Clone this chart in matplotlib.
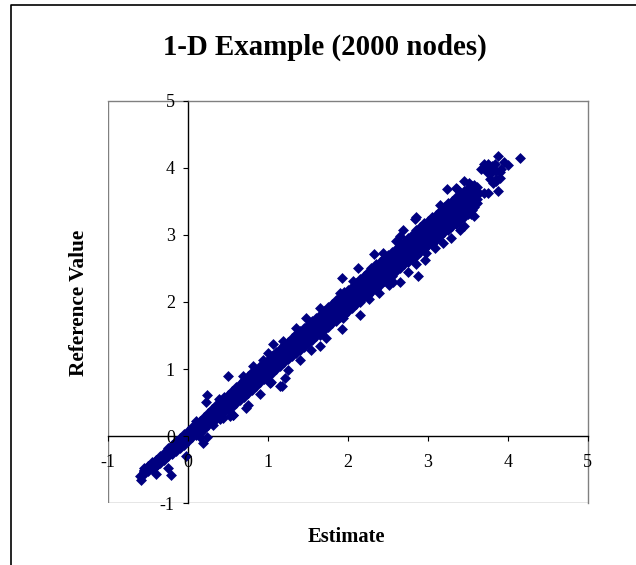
import matplotlib
matplotlib.use("Agg")
import matplotlib.pyplot as plt
from matplotlib.lines import Line2D

plt.rcParams["font.family"] = ["Liberation Serif", "DejaVu Serif"]

W, H = 636, 565
# plot box in pixels
LEFT, RIGHT, TOP, BOTTOM = 108.3, 587.5, 100.7, 503.2

# main band, read as rows along the estimate axis
band_x = [-0.55, -0.45, -0.35, -0.25, -0.15, -0.05, 0.05, 0.15, 0.25, 0.35, 0.45,
          0.55, 0.65, 0.75, 0.85, 0.95, 1.05, 1.15, 1.25, 1.35, 1.45, 1.55,
          1.65, 1.75, 1.85, 1.95, 2.05, 2.15, 2.25, 2.35, 2.45, 2.55, 2.65,
          2.75, 2.85, 2.95, 3.05, 3.15, 3.25, 3.35, 3.45, 3.55, 3.62]
band_mid = [-0.52, -0.44, -0.35, -0.24, -0.15, -0.05, 0.06, 0.14, 0.26, 0.36, 0.47,
            0.56, 0.66, 0.77, 0.87, 0.97, 1.07, 1.17, 1.28, 1.38, 1.47, 1.57,
            1.66, 1.77, 1.87, 1.98, 2.07, 2.17, 2.27, 2.38, 2.48, 2.57, 2.68,
            2.77, 2.88, 2.98, 3.07, 3.17, 3.27, 3.36, 3.46, 3.55, 3.60]
band_up = [-0.48, -0.39, -0.30, -0.18, -0.08, 0.03, 0.14, 0.23, 0.35, 0.46, 0.58,
           0.68, 0.78, 0.90, 0.99, 1.09, 1.20, 1.30, 1.41, 1.52, 1.61, 1.71,
           1.81, 1.92, 2.03, 2.15, 2.23, 2.34, 2.44, 2.56, 2.65, 2.75, 2.86,
           2.95, 3.07, 3.17, 3.27, 3.36, 3.47, 3.56, 3.66, 3.73, 3.72]
band_low = [-0.56, -0.49, -0.40, -0.30, -0.22, -0.13, -0.02, 0.05, 0.17, 0.26, 0.36,
            0.44, 0.54, 0.64, 0.75, 0.85, 0.94, 1.04, 1.15, 1.24, 1.33, 1.43,
            1.51, 1.62, 1.71, 1.81, 1.91, 2.00, 2.10, 2.20, 2.31, 2.39, 2.50,
            2.59, 2.69, 2.79, 2.87, 2.98, 3.07, 3.16, 3.26, 3.37, 3.48]
core_up = [-0.50, -0.41, -0.32, -0.21, -0.11, -0.01, 0.10, 0.18, 0.30, 0.41, 0.52,
           0.62, 0.72, 0.83, 0.93, 1.03, 1.13, 1.23, 1.34, 1.45, 1.54, 1.64,
           1.73, 1.84, 1.95, 2.06, 2.15, 2.25, 2.35, 2.47, 2.56, 2.66, 2.77,
           2.86, 2.97, 3.07, 3.17, 3.26, 3.37, 3.46, 3.56, 3.64, 3.66]
core_low = [-0.54, -0.46, -0.37, -0.27, -0.18, -0.09, 0.02, 0.10, 0.21, 0.31, 0.41,
            0.50, 0.60, 0.70, 0.81, 0.91, 1.00, 1.10, 1.21, 1.31, 1.40, 1.50,
            1.58, 1.69, 1.79, 1.89, 1.99, 2.08, 2.18, 2.29, 2.39, 2.48, 2.59,
            2.68, 2.78, 2.88, 2.97, 3.07, 3.17, 3.26, 3.36, 3.46, 3.54]

# second set of rows, read between the first ones
fill_x = [-0.50, -0.40, -0.30, -0.20, -0.10, 0.00, 0.10, 0.20, 0.30, 0.40, 0.50,
          0.60, 0.70, 0.80, 0.90, 1.00, 1.10, 1.20, 1.30, 1.40, 1.50, 1.60,
          1.70, 1.80, 1.90, 2.00, 2.10, 2.20, 2.30, 2.40, 2.50, 2.60, 2.70,
          2.80, 2.90, 3.00, 3.10, 3.20, 3.30, 3.40, 3.50, 3.58]
fill_mid = [-0.48, -0.40, -0.30, -0.20, -0.10, 0.00, 0.10, 0.20, 0.31, 0.41, 0.51,
            0.61, 0.71, 0.82, 0.92, 1.02, 1.12, 1.23, 1.33, 1.42, 1.52, 1.62,
            1.72, 1.82, 1.92, 2.02, 2.12, 2.22, 2.33, 2.43, 2.53, 2.62, 2.73,
            2.83, 2.93, 3.03, 3.12, 3.22, 3.32, 3.41, 3.50, 3.58]
fill_up = [-0.45, -0.36, -0.26, -0.15, -0.05, 0.05, 0.15, 0.26, 0.38, 0.48, 0.58,
           0.69, 0.79, 0.90, 1.00, 1.10, 1.20, 1.31, 1.41, 1.50, 1.60, 1.70,
           1.80, 1.91, 2.01, 2.11, 2.21, 2.31, 2.42, 2.52, 2.62, 2.71, 2.82,
           2.92, 3.02, 3.12, 3.21, 3.31, 3.41, 3.50, 3.59, 3.66]
fill_low = [-0.51, -0.44, -0.34, -0.25, -0.15, -0.06, 0.04, 0.12, 0.23, 0.33, 0.42,
            0.52, 0.62, 0.72, 0.83, 0.93, 1.03, 1.13, 1.23, 1.32, 1.43, 1.53,
            1.63, 1.73, 1.82, 1.92, 2.02, 2.12, 2.23, 2.33, 2.43, 2.52, 2.63,
            2.72, 2.82, 2.92, 3.02, 3.11, 3.21, 3.30, 3.40, 3.49]
outer_up = [-0.44, -0.35, -0.25, -0.13, -0.03, 0.07, 0.18, 0.28, 0.40, 0.51, 0.62,
            0.73, 0.83, 0.95, 1.04, 1.14, 1.25, 1.36, 1.46, 1.56, 1.66, 1.76,
            1.86, 1.97, 2.08, 2.18, 2.28, 2.38, 2.49, 2.60, 2.70, 2.79, 2.90,
            3.00, 3.11, 3.21, 3.30, 3.41, 3.51, 3.60, 3.69, 3.74]
outer_low = [-0.52, -0.45, -0.35, -0.26, -0.17, -0.08, 0.02, 0.11, 0.21, 0.31, 0.40,
             0.50, 0.59, 0.69, 0.80, 0.90, 1.00, 1.10, 1.20, 1.29, 1.39, 1.49,
             1.58, 1.68, 1.77, 1.87, 1.97, 2.07, 2.17, 2.26, 2.37, 2.46, 2.56,
             2.65, 2.75, 2.85, 2.93, 3.04, 3.13, 3.22, 3.31, 3.42]

# bumps along both edges of the band
edge_x = [0.69, 0.81, 1.06, 1.19, 1.48, 1.65, 1.90, 2.06, 2.29, 0.40, 0.75, 1.02,
          1.17, 1.54, 1.73, 1.94, 2.27, 0.56, 2.44, 2.60, 2.85, 3.15, 3.35, 3.52,
          2.56, 2.98, 3.19, 3.40, 3.58, 0.10, 0.38, 0.94, 0.15, 0.44, 0.73, -0.48,
          -0.33]
edge_y = [0.89, 1.04, 1.37, 1.42, 1.76, 1.91, 2.14, 2.31, 2.51, 0.25, 0.47, 0.79,
          0.74, 1.29, 1.47, 1.76, 2.04, 0.32, 2.73, 2.91, 3.27, 3.45, 3.70, 3.78,
          2.29, 2.73, 2.88, 3.08, 3.28, 0.22, 0.55, 1.14, -0.02, 0.27, 0.42, -0.45,
          -0.30]

# points standing clear of the band, and the top cluster
loose_x = [-0.59, -0.60, -0.40, -0.25, -0.22, -0.03, 0.19, 0.23, 0.22, 0.23, 0.50,
           0.56, 0.31, 0.90, 1.15, 1.04, 2.33, 2.13, 1.93, 2.15, 1.93, 1.65,
           1.40, 1.35, 1.00, 0.53, 1.21, 1.25, 4.15, 3.88, 4.01, 3.88, 3.96,
           3.71, 3.67, 3.24, 3.37, 3.45, 3.54, 3.45, 3.29, 3.09, 2.97, 2.88,
           2.65, 2.85, 2.84, 2.69, 2.65, 2.39, 2.52, 2.75, 3.81, 3.85, 3.90,
           3.78, 3.74, 3.84, 3.92, 3.52, 3.58, 3.50, 3.78, 3.82, 3.86, 3.90,
           3.72, 3.80, 3.76, 3.85, 3.70, 3.76]
loose_y = [-0.66, -0.59, -0.56, -0.47, -0.58, -0.30, -0.10, -0.01, 0.51, 0.62, 0.90,
           0.31, 0.17, 0.63, 0.75, 0.80, 2.72, 2.51, 2.35, 1.80, 1.59, 1.34,
           1.13, 1.61, 1.24, 0.30, 0.87, 0.99, 4.15, 4.18, 4.04, 3.66, 4.09,
           4.05, 3.98, 3.69, 3.69, 3.80, 3.31, 3.13, 2.96, 2.80, 2.63, 2.39,
           2.30, 2.56, 3.24, 3.08, 2.98, 2.14, 2.26, 2.45, 3.93, 3.83, 3.93,
           4.00, 3.93, 4.05, 3.98, 3.72, 3.62, 3.48, 3.84, 3.78, 3.80, 3.85,
           3.98, 4.03, 4.05, 3.95, 3.62, 3.63]

x_ticks = [-1, 0, 1, 2, 3, 4, 5]
y_ticks = [-1, 0, 1, 2, 3, 4, 5]
tick_labels = ["-1", "0", "1", "2", "3", "4", "5"]

fig = plt.figure(figsize=(W / 100, H / 100), dpi=100)
ax = fig.add_axes([LEFT / W, 1 - BOTTOM / H, (RIGHT - LEFT) / W, (BOTTOM - TOP) / H])

xs = band_x * 5 + fill_x * 5 + edge_x + loose_x
ys = (band_mid + band_up + band_low + core_up + core_low
      + fill_mid + fill_up + fill_low + outer_up + outer_low + edge_y + loose_y)
ax.scatter(xs, ys, marker="D", s=31, color="#000080", linewidths=0, zorder=2, clip_on=False)

ax.set_xlim(-1, 5)
ax.set_ylim(-1, 5)
ax.set_xticks(x_ticks)
ax.set_yticks(y_ticks)
ax.set_xticklabels(tick_labels)
ax.set_yticklabels(tick_labels)
ax.set_axisbelow(False)

# zero-crossing axes in black, gray box around the plot
for side in ["left", "bottom"]:
    ax.spines[side].set_position("zero")
    ax.spines[side].set_color("black")
    ax.spines[side].set_linewidth(1.0)
    ax.spines[side].set_zorder(1)
for side in ["top", "right"]:
    ax.spines[side].set_color("#808080")
    ax.spines[side].set_linewidth(1.0)
    ax.spines[side].set_zorder(1)
ax.axvline(-1, color="#808080", lw=1.0, zorder=1)
ax.axhline(-1, color="#808080", lw=1.0, zorder=1)

ax.tick_params(axis="x", direction="out", length=3.6, width=0.8, pad=9, labelsize=13)
ax.tick_params(axis="y", direction="out", length=3.6, width=0.8, pad=6, labelsize=13)

fig.text(324.5 / W, 1 - 47 / H, "1-D Example (2000 nodes)", ha="center", va="center",
         fontsize=20.8, fontweight="bold")
fig.text(346.5 / W, 1 - 537 / H, "Estimate", ha="center", va="center",
         fontsize=14.8, fontweight="bold")
fig.text(79 / W, 1 - 303 / H, "Reference Value", ha="center", va="center", rotation=90,
         fontsize=15.3, fontweight="bold")

# outer chart frame, only its top and left edges fall inside the image
fx0, fy0 = 11 / W, 1 - 5 / H
fig.add_artist(Line2D([fx0, fx0, 1], [0, fy0, fy0], color="black", lw=1.2))

fig.savefig("out.png", dpi=100)
plt.close(fig)
